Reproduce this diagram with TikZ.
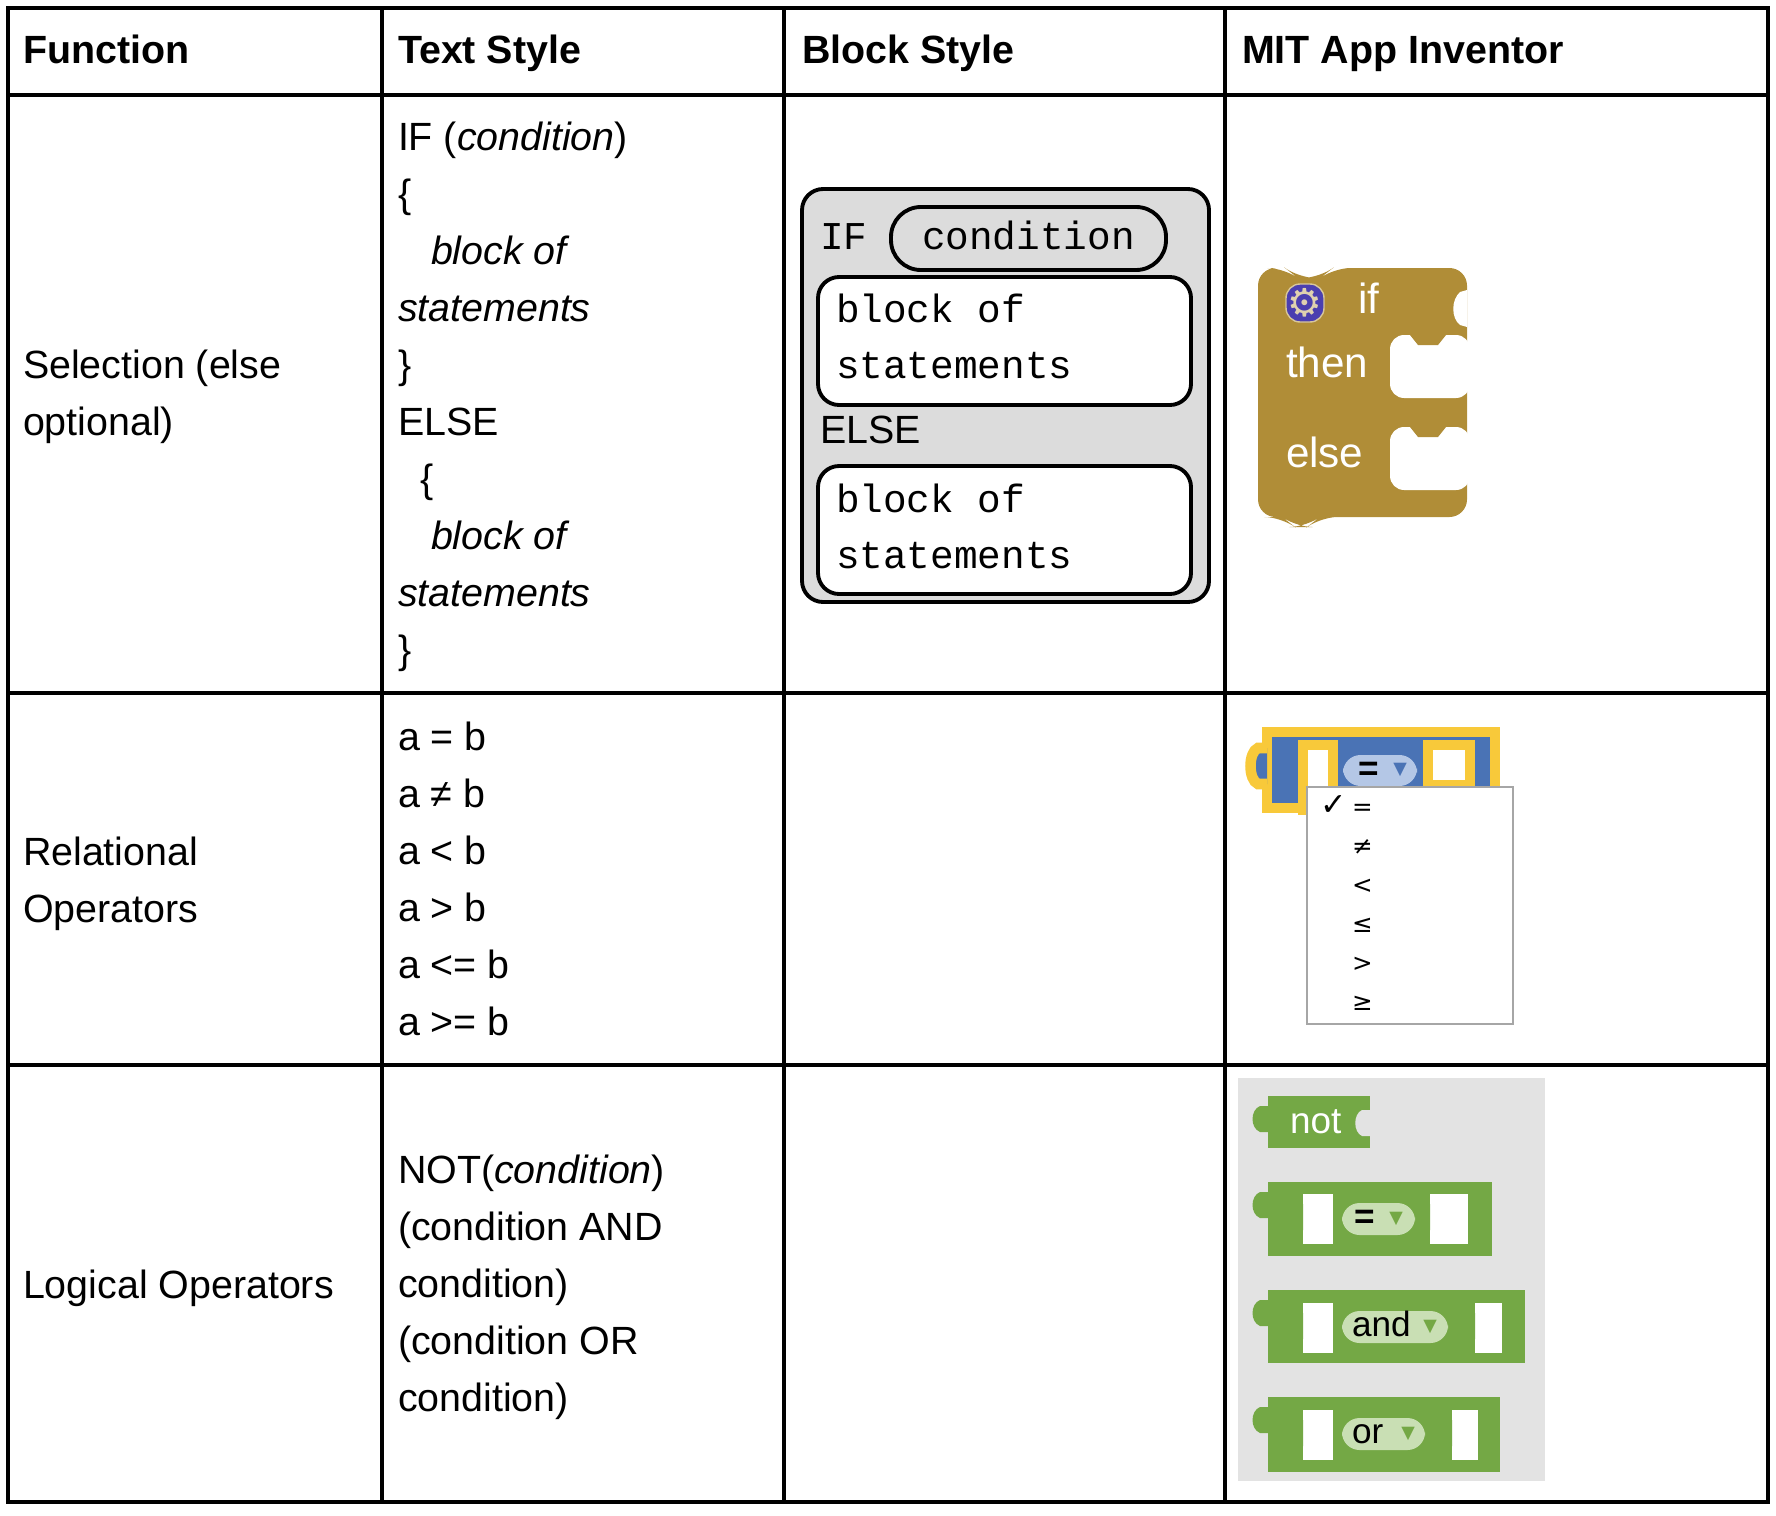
\documentclass[tikz,border=0pt]{standalone}
\usepackage{fontspec}
\setmainfont{Liberation Sans}
\setmonofont{Liberation Mono}
\newfontfamily\symfont{DejaVu Sans}
\definecolor{ifgold}{HTML}{B08D37}
\definecolor{gearblue}{HTML}{4B3FB0}
\definecolor{cmpblue}{HTML}{4A73B5}
\definecolor{cmpyel}{HTML}{F8C93A}
\definecolor{pillblue}{HTML}{B4C7E6}
\definecolor{boolgreen}{HTML}{74A845}
\definecolor{pillgreen}{HTML}{C9DFB4}
\definecolor{palegray}{HTML}{E3E3E3}
\definecolor{blockgray}{HTML}{DCDCDC}
\begin{document}
\begin{tikzpicture}[x=0.01cm,y=-0.01cm,inner sep=0pt,outer sep=0pt,
  txt/.style={anchor=base west,font=\fontsize{11.2}{14}\selectfont},
  head/.style={txt,font=\fontsize{11.2}{14}\selectfont\bfseries},
  code/.style={anchor=base west,font=\fontsize{11.2}{14}\ttfamily},
  grid/.style={line width=1.2pt},
  slot/.style={fill=white,draw=none},
  pilltxt/.style={anchor=base west,font=\fontsize{10}{12}\selectfont},
  small/.style={anchor=base west,font=\fontsize{7}{8}\selectfont}]
\useasboundingbox (0,0) rectangle (1776,1515);

% table grid
\draw[grid] (8,8) rectangle (1768,1502);
\foreach \x in {382,784,1225} \draw[grid] (\x,8) -- (\x,1502);
\foreach \y in {95,693,1065} \draw[grid] (8,\y) -- (1768,\y);

% header
\node[head] (hfun) at (23,64) {Function};
\node[head] (htext) at (398,64) {Text Style};
\node[head] (hblock) at (802,64) {Block Style};
\node[head] (hmit) at (1242,64) {MIT App Inventor};

% selection row
\node[txt] (sel1) at (23,378) {Selection (else};
\node[txt] (sel2) at (23,435) {optional)};
\node[txt] (t1) at (398,150) {IF (\textit{condition})};
\node[txt] (t2) at (398,207) {\{};
\node[txt] (t3) at (431,264) {\textit{block of}};
\node[txt] (t4) at (398,321) {\textit{statements}};
\node[txt] (t5) at (398,378) {\}};
\node[txt] (t6) at (398,435) {ELSE};
\node[txt] (t7) at (420,492) {\{};
\node[txt] (t8) at (431,549) {\textit{block of}};
\node[txt] (t9) at (398,606) {\textit{statements}};
\node[txt] (t10) at (398,663) {\}};

% block style
\draw[line width=1.1pt,fill=blockgray,rounded corners=6pt] (802,189) rectangle (1209,602);
\node[code] (bif) at (820,249) {IF};
\draw[line width=1.1pt,fill=blockgray,rounded corners=8.5pt] (891,207) rectangle (1166,270);
\node[code] (bcond) at (922,249) {condition};
\draw[line width=1.1pt,fill=white,rounded corners=6pt] (818,277) rectangle (1191,405);
\node[code] (bb1) at (836,322) {block of};
\node[code] (bs1) at (836,378) {statements};
\node[txt] (belse) at (820,443) {ELSE};
\draw[line width=1.1pt,fill=white,rounded corners=6pt] (818,466) rectangle (1191,594);
\node[code] (bb2) at (836,512) {block of};
\node[code] (bs2) at (836,568) {statements};

% app inventor if block
\fill[ifgold,rounded corners=5pt] (1258,268) -- (1285,268) -- (1298,278) -- (1320,278) -- (1333,268)
  -- (1467,268) -- (1467,517) -- (1320,517) -- (1307,527) -- (1295,527) -- (1282,517) -- (1258,517) -- cycle;
\fill[white] (1467,290) -- (1460,292) .. controls (1451,300) and (1451,318) .. (1460,325) -- (1467,327) -- cycle;
\fill[white,rounded corners=4pt] (1390,335) rectangle (1470,398);
\fill[white,rounded corners=4pt] (1390,427) rectangle (1470,490);
\fill[ifgold] (1410,335) -- (1418,345) -- (1438,345) -- (1446,335) -- cycle;
\fill[ifgold] (1410,427) -- (1418,437) -- (1438,437) -- (1446,427) -- cycle;
\draw[fill=gearblue,draw=ifgold!50!white,rounded corners=4pt] (1286,284) rectangle (1324,322);
\node[font=\fontsize{11}{12}\symfont,text=ifgold!40!white] (gear) at (1305,303) {⚙};
\node[txt,text=white,font=\fontsize{12}{14}\selectfont] (aif) at (1358,313) {if};
\node[txt,text=white,font=\fontsize{12}{14}\selectfont] (athen) at (1286,377) {then};
\node[txt,text=white,font=\fontsize{12}{14}\selectfont] (aelse) at (1286,467) {else};

% relational row
\node[txt] (rel1) at (23,865) {Relational};
\node[txt] (rel2) at (23,922) {Operators};
\foreach \r [count=\i] in {a = b,a ≠ b,a < b,a > b,a <= b,a >= b}
  \node[txt] (r\i) at (398,{750+57*(\i-1)}) {\r};

% comparison block
\draw[fill=cmpblue,draw=cmpyel,line width=3pt] (1267,732) rectangle (1495,808);
\draw[fill=cmpblue,draw=cmpyel,line width=3pt] (1267,748) -- (1258,748) .. controls (1248,752) and (1248,780) .. (1258,784) -- (1267,784);
\draw[slot,draw=cmpyel,line width=3pt] (1303,745) rectangle (1333,810);
\draw[slot,draw=cmpyel,line width=3pt] (1428,745) rectangle (1470,785);
\fill[pillblue,rounded corners=5pt] (1343,755) rectangle (1417,786);
\node[anchor=base west,font=\fontsize{10}{12}\bfseries] (eq) at (1358,780) {=};
\node[font=\fontsize{5}{6}\symfont,text=cmpblue] (tri) at (1400,770) {▼};
\draw[fill=white,draw=gray!70,line width=0.8pt] (1307,787) rectangle (1513,1024);
\foreach \s [count=\i] in {=,≠,<,≤,>,≥}
  \node[small,font=\fontsize{7}{8}\symfont] (m\i) at (1352,{815+39*(\i-1)}) {\s};
\node[small,font=\fontsize{9}{9}\symfont] (chk) at (1320,815) {✓};

% logical row
\node[txt] (log1) at (23,1298) {Logical Operators};
\node[txt] (l1) at (398,1183) {NOT(\textit{condition})};
\node[txt] (l2) at (398,1240) {(condition AND};
\node[txt] (l3) at (398,1297) {condition)};
\node[txt] (l4) at (398,1354) {(condition OR};
\node[txt] (l5) at (398,1411) {condition)};

% logic blocks
\fill[palegray] (1238,1078) rectangle (1545,1481);
\foreach \yt/\yb/\xr in {1096/1148/1370,1182/1256/1492,1290/1363/1525,1397/1472/1500}{
  \fill[boolgreen] (1268,\yt) rectangle (\xr,\yb);
  \fill[boolgreen] (1268,{\yt+10}) -- (1260,{\yt+10}) .. controls (1250,{\yt+14}) and (1250,{\yt+32}) .. (1260,{\yt+36}) -- (1268,{\yt+36});
}
\fill[palegray] (1370,1110) -- (1362,1110) .. controls (1353,1114) and (1353,1132) .. (1362,1136) -- (1370,1136) -- cycle;
\node[pilltxt,text=white,font=\fontsize{10.5}{12}\selectfont] (lnot) at (1290,1133) {not};
\foreach \yt/\xa/\xb in {1194/1430/1468,1303/1475/1502,1410/1452/1478}{
  \fill[slot] (1303,\yt) rectangle (1333,{\yt+50});
  \fill[slot] (\xa,\yt) rectangle (\xb,{\yt+50});
  \fill[boolgreen] (1303,{\yt+10}) .. controls (1290,{\yt+16}) and (1290,{\yt+30}) .. (1303,{\yt+36}) -- cycle;
  \fill[boolgreen] (\xa,{\yt+10}) .. controls ({\xa-13},{\yt+16}) and ({\xa-13},{\yt+30}) .. (\xa,{\yt+36}) -- cycle;
}
\fill[pillgreen,rounded corners=5pt] (1342,1203) rectangle (1415,1235);
\fill[pillgreen,rounded corners=5pt] (1342,1311) rectangle (1448,1343);
\fill[pillgreen,rounded corners=5pt] (1342,1418) rectangle (1425,1450);
\node[anchor=base west,font=\fontsize{10}{12}\bfseries] (leq) at (1354,1228) {=};
\node[pilltxt] (land) at (1352,1336) {and};
\node[pilltxt] (lor) at (1352,1443) {or};
\foreach \x/\y in {1396/1219,1430/1327,1408/1434}
  \node[font=\fontsize{5}{6}\symfont,text=boolgreen] at (\x,\y) {▼};
\end{tikzpicture}
\end{document}
